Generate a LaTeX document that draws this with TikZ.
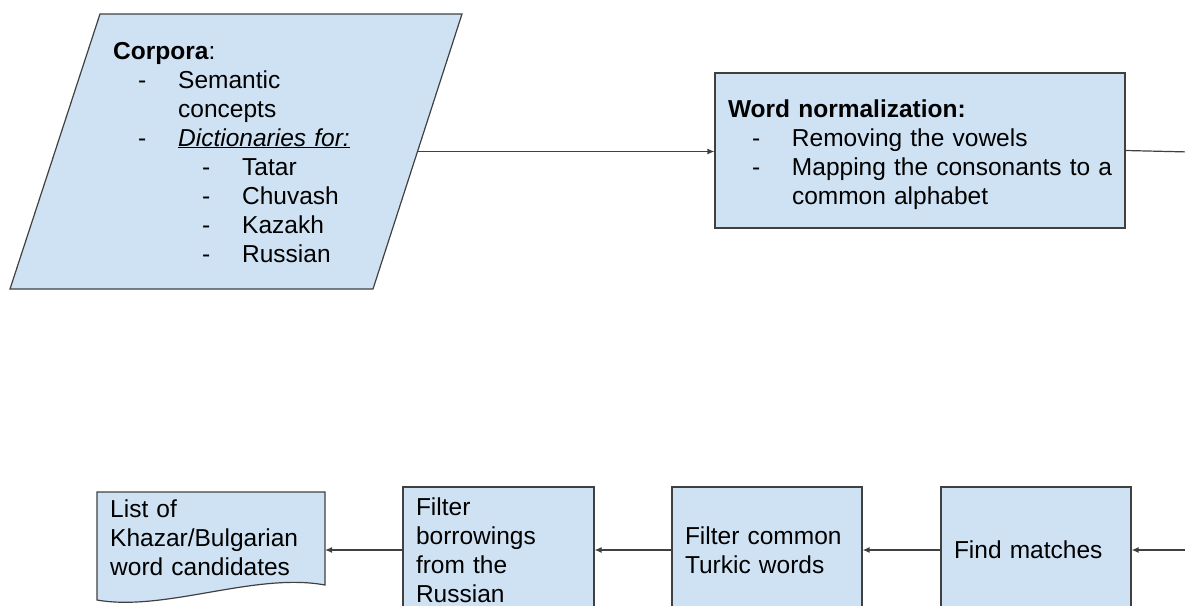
\documentclass[tikz,border=0pt]{standalone}
\usepackage{fontspec}
\setmainfont{Liberation Sans}
\usetikzlibrary{arrows.meta, calc}

\definecolor{lightblue}{HTML}{CFE2F3}
\definecolor{linegray}{HTML}{404040}

\newcommand{\dashitem}[1]{\hspace*{#1}\makebox[40pt][l]{-}}

\begin{document}
\begin{tikzpicture}[x=1pt, y=-1pt,
	every node/.style={font=\fontsize{24.5}{29}\selectfont},
	blk/.style={draw=linegray, fill=lightblue, line width=1.2pt},
	stepbox/.style={blk, rectangle, minimum height=126pt, inner xsep=13pt, inner ysep=0pt, align=left},
	txt/.style={anchor=base west, inner sep=0pt, align=left},
	conn/.style={draw=linegray, line width=1.2pt},
	arr/.style={conn, -{Latex[length=7pt,width=6pt]}}]
	\useasboundingbox (0,0) rectangle (1185,605);
	\clip (0,0) rectangle (1185,605);
	
	% corpora
	\coordinate (ctl) at (100,14);
	\coordinate (ctr) at (462,14);
	\coordinate (cbr) at (373,289);
	\coordinate (cbl) at (10,289);
	\coordinate (ce) at ($(ctr)!0.5!(cbr)$);
	\draw[blk] (ctl) -- (ctr) -- (cbr) -- (cbl) -- cycle;
	\node[txt, text width=300pt] (corpora) at (113,59) {%
		\textbf{Corpora}:\\
		\dashitem{25pt}Semantic\\
		\hspace*{65pt}concepts\\
		\dashitem{25pt}\underline{\textit{Dictionaries for:}}\\
		\dashitem{89pt}Tatar\\
		\dashitem{89pt}Chuvash\\
		\dashitem{89pt}Kazakh\\
		\dashitem{89pt}Russian};
	
	\node[stepbox, text width=384pt, minimum height=155pt] (word) at (920,150.5) {%
		\rule{0pt}{26pt}\textbf{Word normalization:}\\
		\dashitem{24pt}Removing the vowels\\
		\mbox{\dashitem{24pt}Mapping the consonants to a}\\
		\hspace*{64pt}common alphabet};
	\coordinate (wexit) at (1190,152);
	
	% bottom row
	\node[stepbox, text width=164pt] (find) at (1036,550) {Find matches};
	\node[stepbox, text width=164pt] (common) at (767,550) {Filter common\\Turkic words};
	\node[stepbox, text width=165pt] (borrow) at (498.5,550) {Filter\\borrowings\\from the\\Russian};
	\coordinate (fexit) at (1190,550);
	
	% list of candidates
	\coordinate (ltl) at (97,492);
	\coordinate (ltr) at (325,492);
	\coordinate (lbr) at (325,585);
	\coordinate (lbl) at (97,600);
	\coordinate (le) at (325,550);
	\draw[blk] (ltl) -- (ltr) -- (lbr) .. controls (255,572) and (165,612) .. (lbl) -- cycle;
	\node[txt, text width=210pt] (list) at (110,517) {List of\\Khazar/Bulgarian\\word candidates};
	
	\draw[arr] (ce) -- (ce -| word.west);
	\draw[conn] (word.east) -- (wexit);
	\draw[arr] (fexit) -- (find.east);
	\draw[arr] (find.west) -- (common.east);
	\draw[arr] (common.west) -- (borrow.east);
	\draw[arr] (borrow.west) -- (le);
\end{tikzpicture}
\end{document}
